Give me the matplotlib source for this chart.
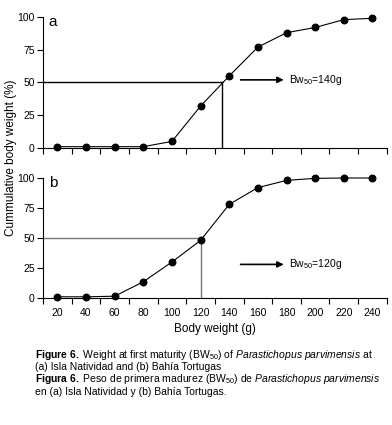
import matplotlib
matplotlib.use("Agg")
import matplotlib.pyplot as plt

plt.rcParams['font.family'] = ['Liberation Sans', 'DejaVu Sans']
plt.rcParams['mathtext.fontset'] = 'custom'
plt.rcParams['mathtext.rm'] = 'Liberation Sans'
plt.rcParams['mathtext.it'] = 'Liberation Sans:italic'
plt.rcParams['mathtext.bf'] = 'Liberation Sans:bold'

# data
weight = [20, 40, 60, 80, 100, 120, 140, 160, 180, 200, 220, 240]
cum_a = [1, 1, 1, 1, 5, 32, 55, 77, 88, 92, 98, 99]
cum_b = [1, 1, 1.5, 13.5, 30, 48, 78, 92, 98, 99.7, 100, 100]
bw50_a = 135   # where the guide lines meet in panel a
bw50_b = 120
label_a = r"Bw$_{50}$=140g"
label_b = r"Bw$_{50}$=120g"

fig = plt.figure(figsize=(3.92, 4.25), dpi=100)
ax_a = fig.add_axes([0.1097, 0.6518, 0.877, 0.3082])
ax_b = fig.add_axes([0.1097, 0.2988, 0.877, 0.2824])

panels = [
    (ax_a, cum_a, bw50_a, label_a, "a", 52, "black"),
    (ax_b, cum_b, bw50_b, label_b, "b", 28, "#777777"),
]

for ax, y, bw, lab, letter, arrow_y, guide_col in panels:
    ax.plot(weight, y, color="black", lw=0.8, marker="o", ms=4.7, clip_on=False, zorder=3)
    ax.plot([10, bw], [50, 50], color=guide_col, lw=1)
    ax.plot([bw, bw], [0, 50], color=guide_col, lw=1)
    ax.annotate("", xy=(180, arrow_y), xytext=(146, arrow_y),
                arrowprops=dict(arrowstyle="-|>", color="black", lw=1.2, mutation_scale=9))
    ax.text(182, arrow_y, lab, fontsize=7.5, va="center", ha="left")
    ax.text(17, 96, letter, fontsize=11, va="center", ha="center")

    ax.set_xlim(10, 250)
    ax.set_ylim(0, 100)
    ax.set_yticks([0, 25, 50, 75, 100])
    ax.set_xticks(weight)
    ax.set_xticks(range(10, 251, 20), minor=True)
    ax.tick_params(axis="x", which="major", length=0, labelsize=7.5, pad=7)
    ax.tick_params(axis="x", which="minor", length=4, width=0.8, direction="out")
    ax.tick_params(axis="y", length=4, width=0.8, labelsize=7.5, pad=2)
    for s in ["top", "right"]:
        ax.spines[s].set_visible(False)
    for s in ["left", "bottom"]:
        ax.spines[s].set_linewidth(0.8)

ax_a.set_xticklabels([])
ax_b.set_xlabel("Body weight (g)", fontsize=8.5, labelpad=4)

fig.text(0.028, 0.63, "Cummulative body weight (%)", rotation=90, fontsize=8.5,
         ha="center", va="center")

cap_x = 0.089
cap_fs = 7.5
fig.text(cap_x, 0.165, r"$\mathbf{Figure\ 6.}$ Weight at first maturity (BW$_{50}$) of "
         r"$\mathit{Parastichopus\ parvimensis}$ at", fontsize=cap_fs, va="center")
fig.text(cap_x, 0.137, "(a) Isla Natividad and (b) Bahía Tortugas", fontsize=cap_fs, va="center")
fig.text(cap_x, 0.108, r"$\mathbf{Figura\ 6.}$ Peso de primera madurez (BW$_{50}$) de "
         r"$\mathit{Parastichopus\ parvimensis}$", fontsize=cap_fs, va="center")
fig.text(cap_x, 0.078, "en (a) Isla Natividad y (b) Bahía Tortugas.", fontsize=cap_fs, va="center")

fig.savefig("out.png", dpi=100)
